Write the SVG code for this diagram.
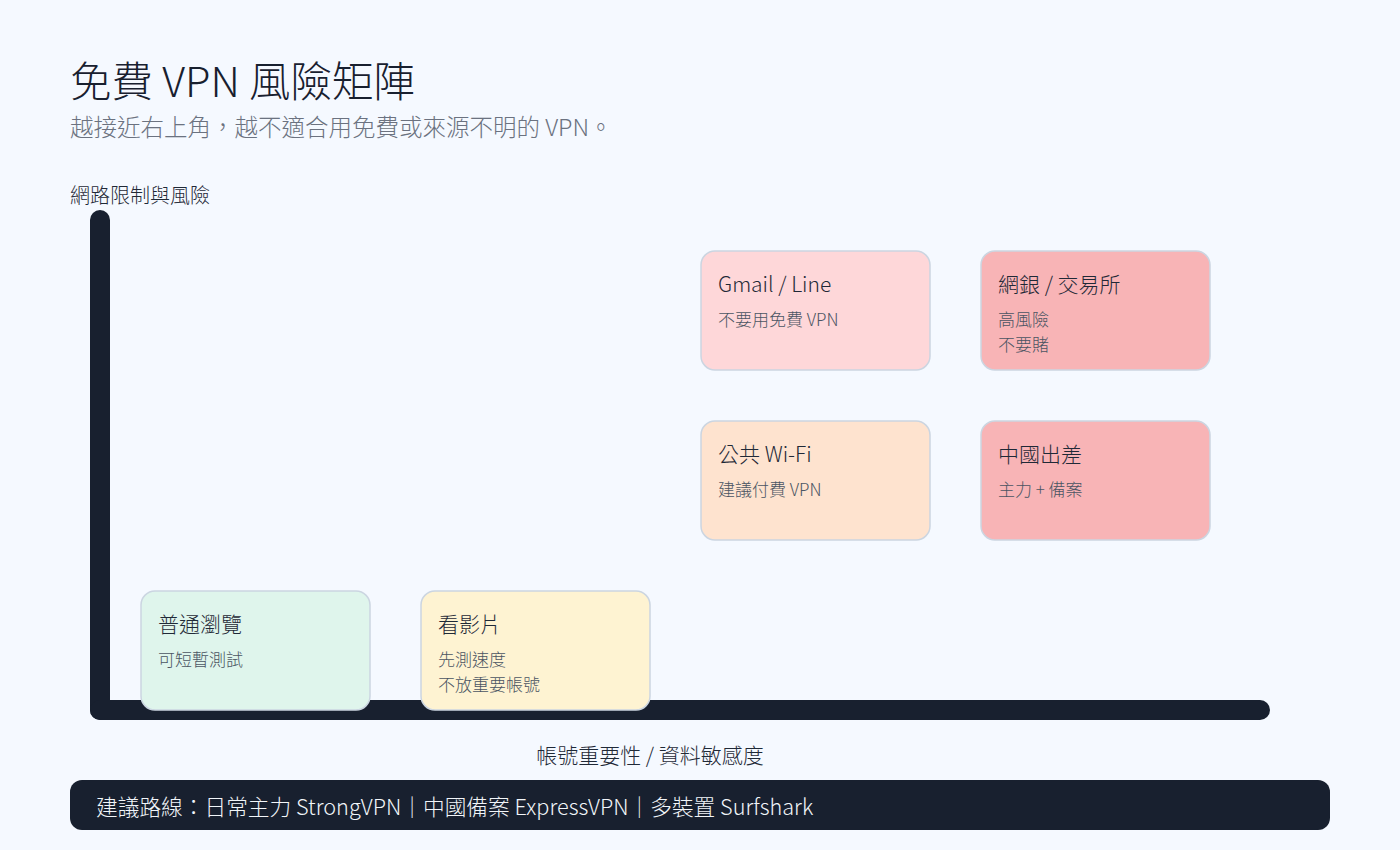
<svg xmlns="http://www.w3.org/2000/svg" width="1400" height="850" viewBox="0 0 1400 850">
<style>
text{font-family:"Noto Sans CJK TC","Noto Sans",sans-serif;font-weight:300}
.box{stroke:#cbd5e1;stroke-width:1.5}
.t{font-size:21px;fill:#1f2937}
.s{font-size:17px;fill:#4b5563}
.axis{fill:#18202f}
</style>
<rect width="1400" height="850" fill="#f5f9ff"/>
<text x="70" y="97" font-size="41.5" fill="#18202f">免費 VPN 風險矩陣</text>
<text x="70" y="136" font-size="23.5" fill="#6b7280">越接近右上角，越不適合用免費或來源不明的 VPN。</text>
<text x="70" y="203" font-size="20" fill="#1f2937">網路限制與風險</text>
<g id="axes">
<rect class="axis" x="90" y="210" width="20" height="510" rx="10"/>
<rect class="axis" x="90" y="700" width="1180" height="20" rx="10"/>
</g>
<text x="650" y="763" font-size="21" fill="#1f2937" text-anchor="middle">帳號重要性 / 資料敏感度</text>
<g id="n-gmail"><rect class="box" x="701" y="251" width="229" height="119" rx="14" fill="#fed7d9"/><text class="t" x="718" y="292">Gmail / Line</text><text class="s" x="718" y="326">不要用免費 VPN</text></g>
<g id="n-bank"><rect class="box" x="981" y="251" width="229" height="119" rx="14" fill="#f8b4b6"/><text class="t" x="998" y="292">網銀 / 交易所</text><text class="s" x="998" y="326">高風險</text><text class="s" x="998" y="351">不要賭</text></g>
<g id="n-wifi"><rect class="box" x="701" y="421" width="229" height="119" rx="14" fill="#fee3cf"/><text class="t" x="718" y="462">公共 Wi-Fi</text><text class="s" x="718" y="496">建議付費 VPN</text></g>
<g id="n-china"><rect class="box" x="981" y="421" width="229" height="119" rx="14" fill="#f8b4b6"/><text class="t" x="998" y="462">中國出差</text><text class="s" x="998" y="496">主力 + 備案</text></g>
<g id="n-browse"><rect class="box" x="141" y="591" width="229" height="119" rx="14" fill="#dff5ec"/><text class="t" x="158" y="632">普通瀏覽</text><text class="s" x="158" y="666">可短暫測試</text></g>
<g id="n-video"><rect class="box" x="421" y="591" width="229" height="119" rx="14" fill="#fef3d2"/><text class="t" x="438" y="632">看影片</text><text class="s" x="438" y="666">先測速度</text><text class="s" x="438" y="691">不放重要帳號</text></g>
<rect x="70" y="780" width="1260" height="50" rx="12" fill="#18202f"/>
<text x="96" y="815" font-size="21.7" fill="#f1f5f9">建議路線：日常主力 StrongVPN｜中國備案 ExpressVPN｜多裝置 Surfshark</text>
</svg>
